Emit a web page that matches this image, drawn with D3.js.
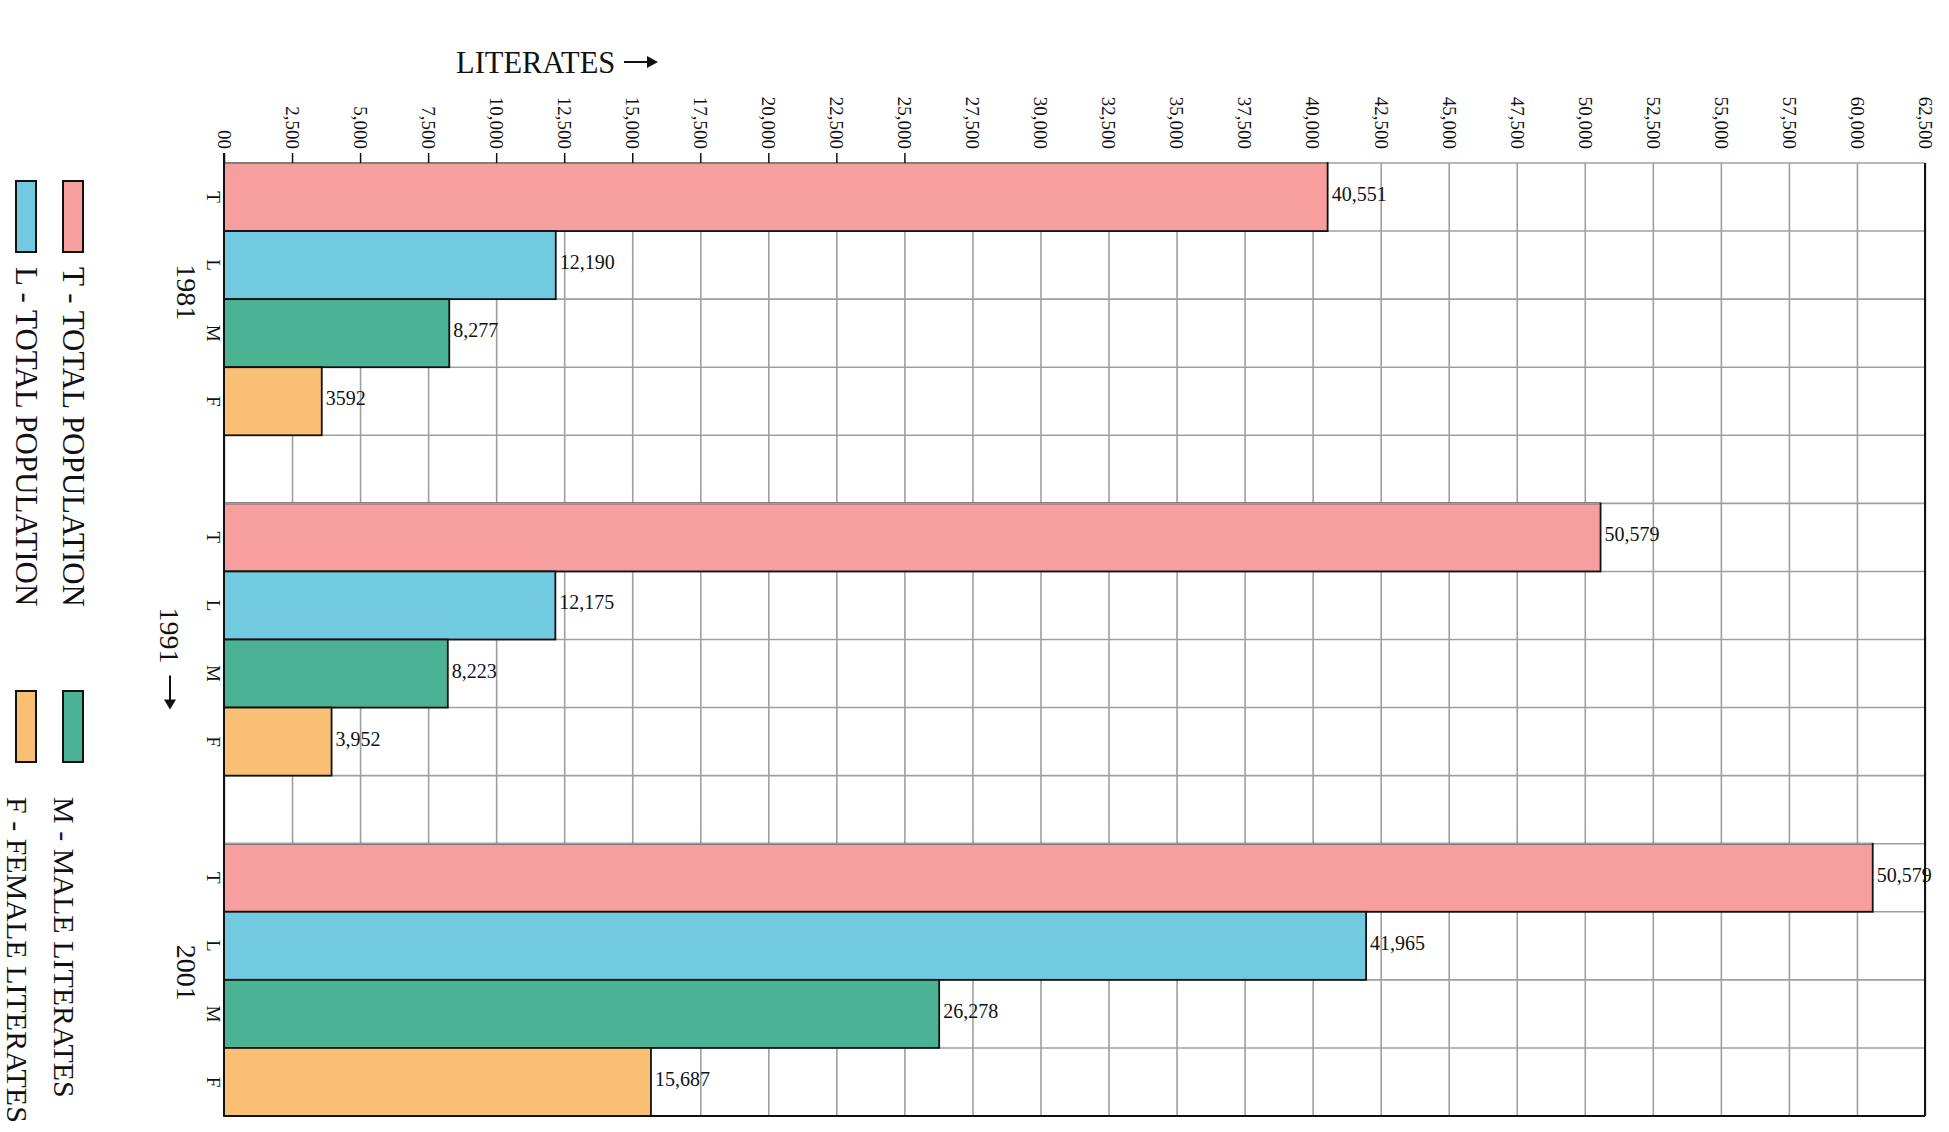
<!DOCTYPE html>
<html>
<head>
<meta charset="utf-8">
<script src="https://cdnjs.cloudflare.com/ajax/libs/d3/7.8.5/d3.min.js"></script>
<style>
  body { margin: 0; background: #fff; }
  svg { display: block; font-family: "Liberation Serif", "Times New Roman", serif; }
</style>
</head>
<body>
<script>
// data
const years = ["1981", "1991", "2001"];
const categories = ["T", "L", "M", "F"];
const colors = ["#f79f9f", "#72cae1", "#4bb394", "#f9bf75"];

const values1981 = [40551, 12190, 8277, 3592];
const values1991 = [50579, 12175, 8223, 3952];
const values2001 = [60579, 41965, 26278, 15687];

// labels as printed (2001 T is printed 50,579)
const labels1981 = ["40,551", "12,190", "8,277", "3592"];
const labels1991 = ["50,579", "12,175", "8,223", "3,952"];
const labels2001 = ["50,579", "41,965", "26,278", "15,687"];

const legendLabels = ["T - TOTAL POPULATION", "L - TOTAL POPULATION", "M - MALE LITERATES", "F - FEMALE LITERATES"];

const tickValues = [0, 2500, 5000, 7500, 10000, 12500, 15000, 17500, 20000, 22500, 25000,
  27500, 30000, 32500, 35000, 37500, 40000, 42500, 45000, 47500, 50000, 52500, 55000,
  57500, 60000, 62500];
const tickMarksUpTo = 25000;

const seriesValues = [values1981, values1991, values2001];
const seriesLabels = [labels1981, labels1991, labels2001];

//////////////////////////////////////////////////

const width = 1949;
const height = 1132;
const plot = { left: 224, right: 1925, top: 163, bottom: 1116 };
const gridColor = "#9f9f9f";

const svg = d3.select("body").append("svg")
  .attr("width", width)
  .attr("height", height);

// rows: four bars per year with an empty row between years
const rows = [];
years.forEach(function(yr, i) {
  categories.forEach(function(c, j) {
    rows.push({ key: yr + c, year: yr, cat: c, value: seriesValues[i][j], label: seriesLabels[i][j], color: colors[j] });
  });
  if (i < years.length - 1) rows.push({ key: "gap" + i });
});

const x = d3.scaleLinear()
  .domain([0, 62500])
  .range([plot.left, plot.right]);

const y = d3.scaleBand()
  .domain(rows.map(d => d.key))
  .range([plot.top, plot.bottom]);

// vertical grid
svg.append("g")
  .attr("transform", "translate(0," + plot.bottom + ")")
  .call(d3.axisBottom(x).tickValues(tickValues).tickSize(-(plot.bottom - plot.top)).tickFormat(""))
  .call(g => g.select(".domain").remove())
  .selectAll(".tick line")
    .attr("stroke", gridColor)
    .attr("stroke-width", 1.6);

// horizontal grid
const bounds = d3.range(rows.length + 1).map(i => plot.top + i * y.step());
svg.append("g").selectAll("line")
  .data(bounds)
  .join("line")
    .attr("x1", plot.left).attr("x2", plot.right)
    .attr("y1", d => d).attr("y2", d => d)
    .attr("stroke", gridColor)
    .attr("stroke-width", 1.6);

// bars
const barRows = rows.filter(d => d.value != null);
svg.append("g").selectAll("rect")
  .data(barRows)
  .join("rect")
    .attr("x", x(0))
    .attr("y", d => y(d.key))
    .attr("width", d => x(d.value) - x(0))
    .attr("height", y.bandwidth())
    .attr("fill", d => d.color)
    .attr("stroke", "#111")
    .attr("stroke-width", 1.8);

// grey top edge over the first bar of every year
svg.append("g").selectAll("line")
  .data(barRows.filter(d => d.cat === "T"))
  .join("line")
    .attr("x1", x(0)).attr("x2", d => x(d.value) - 1)
    .attr("y1", d => y(d.key)).attr("y2", d => y(d.key))
    .attr("stroke", gridColor)
    .attr("stroke-width", 1.6);

// value labels
svg.append("g").selectAll("text")
  .data(barRows)
  .join("text")
    .attr("x", d => x(d.value) + 4)
    .attr("y", d => y(d.key) + y.bandwidth() / 2 - 3)
    .attr("dy", "0.35em")
    .attr("font-size", 20)
    .attr("fill", "#111")
    .text(d => d.label);

// frame: left axis, right and bottom border
svg.append("line")
  .attr("x1", plot.left).attr("x2", plot.left)
  .attr("y1", plot.top - 10).attr("y2", plot.bottom)
  .attr("stroke", "#111").attr("stroke-width", 2);
svg.append("line")
  .attr("x1", plot.right).attr("x2", plot.right)
  .attr("y1", plot.top).attr("y2", plot.bottom)
  .attr("stroke", "#111").attr("stroke-width", 2);
svg.append("line")
  .attr("x1", plot.left).attr("x2", plot.right)
  .attr("y1", plot.bottom).attr("y2", plot.bottom)
  .attr("stroke", "#111").attr("stroke-width", 2);

// top axis with rotated labels
const topAxis = svg.append("g")
  .attr("transform", "translate(0," + plot.top + ")")
  .call(d3.axisTop(x).tickValues(tickValues).tickSize(10)
    .tickFormat(d => d === 0 ? "00" : d3.format(",")(d)))
  .attr("font-family", null)
  .attr("font-size", 19);
topAxis.select(".domain").remove();
topAxis.selectAll(".tick line")
  .attr("stroke", "#111")
  .attr("stroke-width", 1.5)
  .attr("display", d => d <= tickMarksUpTo ? null : "none");
topAxis.selectAll(".tick text")
  .attr("x", 0)
  .attr("y", 0)
  .attr("dy", "0.35em")
  .attr("transform", "translate(0,-14) rotate(90)")
  .attr("text-anchor", "end")
  .attr("fill", "#111");

// category letters
svg.append("g").selectAll("text")
  .data(barRows)
  .join("text")
    .attr("transform", d => "translate(207," + (y(d.key) + y.bandwidth() / 2) + ") rotate(90)")
    .attr("text-anchor", "middle")
    .attr("font-size", 19)
    .attr("fill", "#111")
    .text(d => d.cat);

// year labels
years.forEach(function(yr, i) {
  const y0 = y(yr + categories[0]);
  const y1 = y(yr + categories[categories.length - 1]) + y.bandwidth();
  const cy = (y0 + y1) / 2;
  const withArrow = i === 1;
  const bx = withArrow ? 160 : 177;
  svg.append("text")
    .attr("transform", "translate(" + bx + "," + (cy - (withArrow ? 4 : 7)) + ") rotate(90)")
    .attr("text-anchor", "middle")
    .attr("font-size", 28)
    .attr("fill", "#111")
    .text(yr);
  if (withArrow) {
    svg.append("line")
      .attr("x1", 170).attr("x2", 170)
      .attr("y1", cy + 36).attr("y2", cy + 62)
      .attr("stroke", "#111").attr("stroke-width", 2);
    svg.append("path")
      .attr("d", "M164," + (cy + 60) + "L176," + (cy + 60) + "L170," + (cy + 70) + "Z")
      .attr("fill", "#111");
  }
});

// axis title
svg.append("text")
  .attr("x", 456)
  .attr("y", 73)
  .attr("font-size", 30.5)
  .attr("fill", "#111")
  .text("LITERATES");
svg.append("line")
  .attr("x1", 624).attr("x2", 650)
  .attr("y1", 62).attr("y2", 62)
  .attr("stroke", "#111").attr("stroke-width", 2);
svg.append("path")
  .attr("d", "M647,56L658,62L647,68Z")
  .attr("fill", "#111");

// legend (rotated)
const legend = svg.append("g");
legendLabels.forEach(function(lbl, i) {
  const block = Math.floor(i / 2);
  const col = i % 2;
  const sx = col ? 16 : 63;
  const sy = block ? 691 : 181;
  legend.append("rect")
    .attr("x", sx).attr("y", sy)
    .attr("width", 20).attr("height", 71)
    .attr("fill", colors[i])
    .attr("stroke", "#111")
    .attr("stroke-width", 2);
  legend.append("text")
    .attr("transform", "translate(" + (sx - (block ? 9 : 0)) + "," + (sy + (block ? 106 : 86)) + ") rotate(90)")
    .attr("font-size", block ? 30 : 31)
    .attr("fill", "#111")
    .text(lbl);
});
</script>
</body>
</html>
